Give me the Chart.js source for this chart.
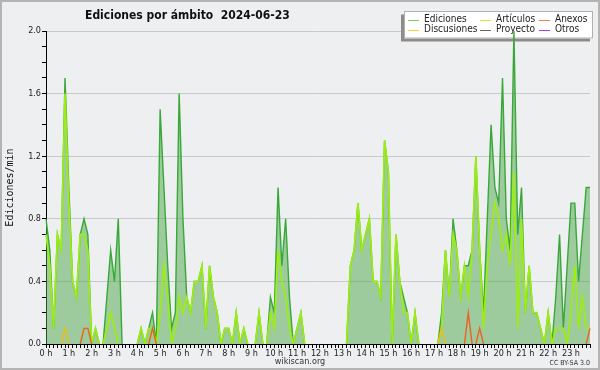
<!DOCTYPE html>
<html><head><meta charset="utf-8">
<script src="https://cdn.jsdelivr.net/npm/chart.js@4/dist/chart.umd.min.js"></script>
<style>html,body{margin:0;padding:0;background:#eeeff1}#wrap{width:600px;height:370px;position:relative}</style>
</head><body><div id="wrap"><canvas id="c" width="600" height="370"></canvas></div>
<script>
const times = [
"00:00","00:10","00:20","00:30","00:40","00:50","01:00","01:10","01:20","01:30","01:40","01:50",
"02:00","02:10","02:20","02:30","02:40","02:50","03:00","03:10","03:20","03:30","03:40","03:50",
"04:00","04:10","04:20","04:30","04:40","04:50","05:00","05:10","05:20","05:30","05:40","05:50",
"06:00","06:10","06:20","06:30","06:40","06:50","07:00","07:10","07:20","07:30","07:40","07:50",
"08:00","08:10","08:20","08:30","08:40","08:50","09:00","09:10","09:20","09:30","09:40","09:50",
"10:00","10:10","10:20","10:30","10:40","10:50","11:00","11:10","11:20","11:30","11:40","11:50",
"12:00","12:10","12:20","12:30","12:40","12:50","13:00","13:10","13:20","13:30","13:40","13:50",
"14:00","14:10","14:20","14:30","14:40","14:50","15:00","15:10","15:20","15:30","15:40","15:50",
"16:00","16:10","16:20","16:30","16:40","16:50","17:00","17:10","17:20","17:30","17:40","17:50",
"18:00","18:10","18:20","18:30","18:40","18:50","19:00","19:10","19:20","19:30","19:40","19:50",
"20:00","20:10","20:20","20:30","20:40","20:50","21:00","21:10","21:20","21:30","21:40","21:50",
"22:00","22:10","22:20","22:30","22:40","22:50","23:00","23:10","23:20","23:30","23:40","23:50"];

const hourLabels = ["0 h","1 h","2 h","3 h","4 h","5 h","6 h","7 h","8 h","9 h","10 h","11 h",
"12 h","13 h","14 h","15 h","16 h","17 h","18 h","19 h","20 h","21 h","22 h","23 h"];

const ediciones = [
0.8,0.6,0.1,0.7,0.6,1.7,1.0,0.4,0.3,0.7,0.8,0.7,
0,0.1,0,0,0.3,0.6,0.4,0.8,0,0,0,0,
0,0.1,0,0.1,0.2,0,1.5,1.0,0.5,0.1,0.2,1.6,
0.8,0.3,0.2,0.4,0.4,0.5,0.1,0.5,0.3,0.2,0,0.1,
0.1,0,0.2,0,0.1,0,0,0,0.2,0,0,0.3,
0.2,1.0,0.5,0.8,0.3,0,0.1,0.2,0,0,0,0,
0,0,0,0,0,0,0,0,0.5,0.6,0.9,0.6,
0.7,0.8,0.4,0.4,0.3,1.3,1.1,0,0.7,0.4,0.3,0.2,
0,0.2,0,0,0,0,0,0,0.2,0.6,0.3,0.8,
0.6,0.3,0.5,0.5,0.6,1.2,0.6,0.2,0.8,1.4,1.0,0.9,
1.7,0.8,0.6,2.0,0.7,1.0,0.2,0.5,0.2,0.2,0.1,0,
0.2,0,0.3,0.7,0.1,0.5,0.9,0.9,0.4,0.7,1.0,1.0];

const articulos = [
0.7,0.5,0.1,0.7,0.6,1.6,0.9,0.4,0.3,0.7,0.7,0.6,
0,0.1,0,0,0.1,0.2,0.1,0,0,0,0,0,
0,0.1,0,0.1,0.1,0,0.2,0.5,0.3,0,0.1,0.3,
0.2,0.3,0.2,0.4,0.4,0.5,0.1,0.5,0.3,0.2,0,0.1,
0.1,0,0.2,0,0.1,0,0,0,0.2,0,0,0.2,
0.1,0.6,0.4,0.3,0.1,0,0.1,0.2,0,0,0,0,
0,0,0,0,0,0,0,0,0.5,0.6,0.9,0.6,
0.7,0.8,0.4,0.4,0.3,1.3,1.1,0,0.7,0.4,0.2,0.2,
0,0.2,0,0,0,0,0,0,0.1,0.6,0.3,0.7,
0.6,0.3,0.5,0.3,0.6,1.2,0.6,0.1,0.5,0.7,0.9,0.8,
0.6,0.7,0.5,1.1,0.1,0.8,0.2,0.5,0.2,0.2,0.1,0,
0.2,0,0.1,0.1,0.1,0,0.2,0.5,0.1,0.3,0.1,0.1];

const anexos = [
0,0,0,0,0,0,0,0,0,0,0.1,0.1,
0,0,0,0,0,0,0,0,0,0,0,0,
0,0,0,0,0.1,0,0,0,0,0,0,0,
0,0,0,0,0,0,0,0,0,0,0,0,
0,0,0,0,0,0,0,0,0,0,0,0,
0,0,0,0,0,0,0,0,0,0,0,0,
0,0,0,0,0,0,0,0,0,0,0,0,
0,0,0,0,0,0,0,0,0,0,0,0,
0,0,0,0,0,0,0,0,0,0,0,0,
0,0,0,0.2,0,0,0.1,0,0,0,0,0,
0,0,0,0,0,0,0,0,0,0,0,0,
0,0,0,0,0,0,0,0,0,0,0,0.1];

const discusiones = [
0,0,0,0,0,0.1,0,0,0,0,0,0,
0,0,0,0,0,0,0,0,0,0,0,0,
0,0,0,0,0,0,0,0,0,0,0,0,
0,0,0,0,0,0,0,0,0,0,0,0,
0,0,0,0,0,0,0,0,0,0,0,0,
0,0,0,0,0,0,0,0,0,0,0,0,
0,0,0,0,0,0,0,0,0,0,0,0,
0,0,0,0,0,0,0,0,0,0,0,0,
0,0,0,0,0,0,0,0,0.1,0,0,0,
0,0,0,0,0,0,0,0,0,0,0,0,
0,0,0,0,0,0,0,0,0,0,0,0,
0,0,0,0,0,0,0,0,0,0,0,0];

const proyecto = [
0,0,0,0,0,0,0,0,0,0,0,0, 0,0,0,0,0,0,0,0,0,0,0,0,
0,0,0,0,0,0,0,0,0,0,0,0, 0,0,0,0,0,0,0,0,0,0,0,0,
0,0,0,0,0,0,0,0,0,0,0,0, 0,0,0,0,0,0,0,0,0,0,0,0,
0,0,0,0,0,0,0,0,0,0,0,0, 0,0,0,0,0,0,0,0,0,0,0,0,
0,0,0,0,0,0,0,0,0,0,0,0, 0,0,0,0,0,0,0,0,0,0,0,0,
0,0,0,0,0,0,0,0,0,0,0,0, 0,0,0,0,0,0,0,0,0,0,0,0];

const otros = [
0,0,0,0,0,0,0,0,0,0,0,0, 0,0,0,0,0,0,0,0,0,0,0,0,
0,0,0,0,0,0,0,0,0,0,0,0, 0,0,0,0,0,0,0,0,0,0,0,0,
0,0,0,0,0,0,0,0,0,0,0,0, 0,0,0,0,0,0,0,0,0,0,0,0,
0,0,0,0,0,0,0,0,0,0,0,0, 0,0,0,0,0,0,0,0,0,0,0,0,
0,0,0,0,0,0,0,0,0,0,0,0, 0,0,0,0,0,0,0,0,0,0,0,0,
0,0,0,0,0,0,0,0,0,0,0,0, 0,0,0,0,0,0,0,0,0,0,0,0];

const titleText = "Ediciones por ámbito  2024-06-23";
const yTitle = "Ediciones/min";

const FONT = '"DejaVu Sans Condensed", "DejaVu Sans", sans-serif';
const hideZero = { borderColor: ctx => (ctx.p0.parsed.y === 0 && ctx.p1.parsed.y === 0) ? 'rgba(0,0,0,0)' : undefined };

const legendSlots = [
  {lx:408, tx:424, y:19.5}, {lx:480, tx:496, y:19.5}, {lx:539, tx:555, y:19.5},
  {lx:408, tx:424, y:29.5}, {lx:480, tx:496, y:29.5}, {lx:539, tx:555, y:29.5}];
const legendOrder = [0,1,2,3,4,5];

const decor = {
  id: 'decor',
  beforeDraw(chart) {
    const c = chart.ctx; c.save();
    c.fillStyle = '#eeeff1'; c.fillRect(0, 0, 600, 370);
    c.strokeStyle = '#b4b4b4'; c.lineWidth = 2; c.strokeRect(1, 1, 598, 368);
    c.restore();
  },
  beforeDatasetsDraw(chart) {
    const c = chart.ctx; c.save();
    c.fillStyle = '#8c8c8c'; c.fillRect(401, 14.5, 189, 27);
    c.fillStyle = '#ffffff'; c.fillRect(404, 11.5, 189, 27);
    c.strokeStyle = '#b0b0b0'; c.lineWidth = 1; c.strokeRect(404.5, 11.5, 188, 26.5);
    c.font = '10px ' + FONT; c.textBaseline = 'middle'; c.textAlign = 'left';
    legendOrder.forEach((di, k) => {
      const ds = chart.data.datasets[di], s = legendSlots[k];
      c.strokeStyle = ds.legendColor; c.lineWidth = 1;
      c.beginPath(); c.moveTo(s.lx, Math.round(s.y) + 0.5); c.lineTo(s.lx + 11, Math.round(s.y) + 0.5); c.stroke();
      c.fillStyle = '#222'; c.fillText(ds.label, s.tx, s.y);
    });
    c.restore();
  },
  afterDraw(chart) {
    const c = chart.ctx; c.save();
    c.fillStyle = '#111'; c.textBaseline = 'alphabetic';
    c.font = 'bold 12px ' + FONT; c.textAlign = 'left';
    c.fillText(titleText, 85, 18.5);
    c.fillStyle = '#333'; c.font = '9px ' + FONT; c.textAlign = 'center';
    c.fillText('wikiscan.org', 300, 364);
    c.font = '7px ' + FONT; c.textAlign = 'right';
    c.fillText('CC BY-SA 3.0', 590, 364.5);
    c.restore();
  }
};

new Chart(document.getElementById('c'), {
  type: 'line',
  data: {
    labels: times,
    datasets: [
      {label:'Ediciones', data:ediciones, borderColor:'#38a838', backgroundColor:'rgba(76,167,73,0.5)', fill:'origin', borderWidth:1.4, order:6, legendColor:'#77cc77', segment:hideZero},
      {label:'Artículos', data:articulos, borderColor:'#9cee12', borderWidth:1.7, fill:false, order:5, legendColor:'#c8ee3c', segment:hideZero},
      {label:'Anexos', data:anexos, borderColor:'#ee6020', borderWidth:1.4, fill:false, order:1, legendColor:'#ff7744', segment:hideZero},
      {label:'Discusiones', data:discusiones, borderColor:'#f2bc10', borderWidth:1.4, fill:false, order:2, legendColor:'#ffcc33', segment:hideZero},
      {label:'Proyecto', data:proyecto, borderColor:'#555555', borderWidth:1.4, fill:false, order:3, legendColor:'#666666', segment:hideZero},
      {label:'Otros', data:otros, borderColor:'#9944ee', borderWidth:1.4, fill:false, order:4, legendColor:'#9944ee', segment:hideZero}
    ]
  },
  options: {
    responsive: false, animation: false, events: [],
    elements: { point: { radius: 0 }, line: { tension: 0 } },
    layout: { padding: { left: 0, right: 10, top: 31, bottom: 0 } },
    plugins: { legend: { display: false }, title: { display: false }, tooltip: { enabled: false } },
    scales: {
      x: {
        type: 'category', offset: false, z: 1,
        afterFit(s) { s.height = 26; },
        grid: { drawOnChartArea: false, offset: false, tickLength: 4, tickColor: '#000', lineWidth: 1 },
        border: { display: true, color: '#000', width: 1 },
        ticks: { autoSkip: false, maxRotation: 0, minRotation: 0, padding: 0, color: '#222',
          font: { family: FONT, size: 9 },
          callback: (v, i) => (i % 6 === 0) ? hourLabels[i / 6] : '' }
      },
      y: {
        min: 0, max: 2,
        afterFit(s) { s.width = 46; },
        grid: { color: ctx => (ctx.index > 0 && ctx.index % 4 === 0) ? '#c9c9c9' : 'rgba(0,0,0,0)', tickColor: '#000', tickLength: 4, lineWidth: 1 },
        border: { display: true, color: '#000', width: 1 },
        ticks: { stepSize: 0.1, autoSkip: false, maxTicksLimit: 100, padding: 1, color: '#222',
          font: { family: FONT, size: 9 },
          callback: (v, i) => (i % 4 === 0) ? v.toFixed(1) : '' },
        title: { display: true, text: yTitle, color: '#111', font: { family: '"DejaVu Sans Mono", monospace', size: 10 } }
      }
    }
  },
  plugins: [decor]
});
</script>
</body></html>
